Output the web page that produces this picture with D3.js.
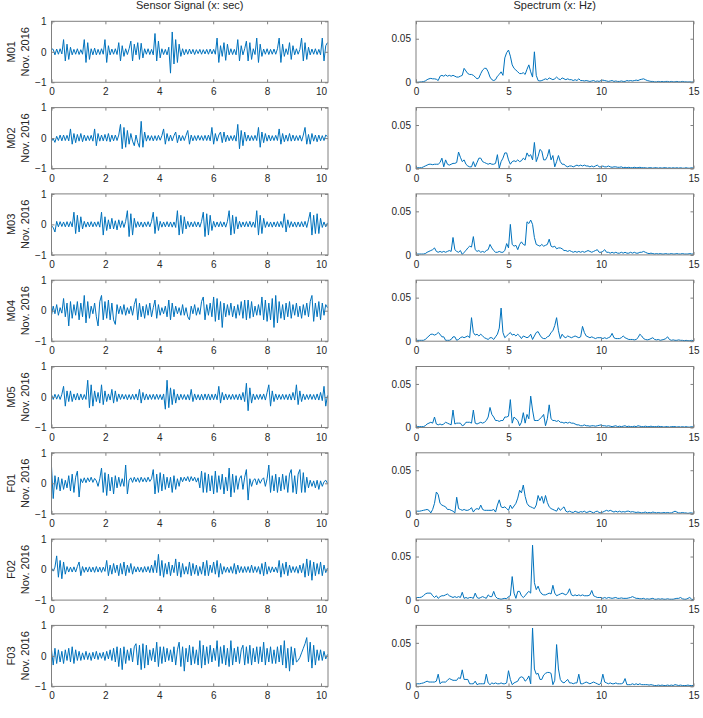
<!DOCTYPE html>
<html>
<head>
<meta charset="utf-8">
<script src="https://cdn.jsdelivr.net/npm/d3@7"></script>
<style>
body { margin: 0; background: #fff; }
svg { font-family: "Liberation Sans", Arial, sans-serif; }
</style>
</head>
<body>
<div id="chart-area"></div>
<script>
/*
*   Sensor signals and their spectra, eight recordings
*/

var rowNames = ["M01", "M02", "M03", "M04", "M05", "F01", "F02", "F03"];
var monthLabel = "Nov. 2016";
var leftTitle = "Sensor Signal (x: sec)";
var rightTitle = "Spectrum (x: Hz)";

var sampleStep = 0.064;   // sec between signal values
var freqStep = 0.1;       // Hz between spectrum values

// signal values, in hundredths
var sigM01 = [10,8,-10,9,-8,10,-7,40,-30,25, -25,15,-10,8,-8,10,-9,7,-8,40, -35,30,-25,10,-10,12,-10,8,-9,10,
    -8,40,-35,20,-10,9,-8,10,-9,30, -30,20,-15,10,-9,10,35,-30,25,-10, 30,-25,28,-20,10,-8,10,-9,8,-10,
    60,-30,35,-20,10,-9,8,-10,15,-70, 65,-40,40,-35,25,-15,10,-10,8,-8, 9,-7,8,-9,7,-6,8,-8,7,-7,
    8,-8,9,-7,8,-8,45,-35,20,-15, 30,-28,25,-10,10,-9,8,-10,40,-30, 20,-10,10,35,-30,30,-25,10,-9,45,
    -35,25,-15,9,-8,10,-9,8,-8,9, -8,10,45,-35,25,-15,10,-9,30,-25, 20,-10,10,-8,8,45,-30,30,-25,15,
    -10,9,-8,10,-9,8,-10,45,-30,20, 30];
var sigM02 = [-10,-2,-14,6,-8,10,-9,10,-8,9, -9,30,-20,15,-15,12,-10,15,-12,10, -9,8,-8,9,-10,30,-25,15,-10,10,
    -9,12,-10,15,-12,10,-9,10,-8,10, 45,-35,35,-30,25,-20,15,-10,-25,10, -15,-30,55,-30,20,-10,9,-8,8,-9,
    8,-8,9,-7,8,30,-20,15,-10,10, -9,8,20,-15,10,-9,8,-8,9,25, -20,10,-9,8,-8,9,-7,8,-8,9,
    -8,10,-9,35,-20,15,-10,10,20,-15, 20,-12,10,-9,8,-8,9,-10,45,-35, 25,-25,20,-10,10,-9,8,-8,9,-8,
    35,-30,20,-15,15,-10,10,-9,8,-8, 9,-8,30,-20,15,-12,10,-10,15,-10, 10,-9,8,-8,9,-10,10,35,-20,12,
    -20,15,-10,10,-12,10,-9,8,-8,10, 5];
var sigM03 = [-5,-10,-25,10,-8,9,-7,8,-8,9, -8,9,-8,40,-30,30,-25,25,-15,10, -9,8,-8,9,-8,8,-7,9,-9,40,
    -35,25,-20,15,-15,20,-15,12,-18,15, -10,12,-10,10,45,-40,35,-35,20,-10, 9,-8,8,-9,8,-7,9,-8,10,40,
    -30,25,-20,10,-9,8,-8,9,-8,8, -9,8,-10,45,-35,30,-30,25,-15,10, -9,8,-8,9,-8,8,-9,10,40,-40,
    35,-35,30,-20,10,-9,8,-8,9,-8, 8,-9,10,45,-35,30,-30,25,-15,10, -9,8,-8,9,-8,10,-9,8,-10,45,
    -35,30,-30,20,-10,9,-8,8,-9,8, -8,9,-8,10,-10,35,-25,15,-10,9, -8,8,-9,8,-8,9,-8,10,-10,15,
    40,-35,30,-30,35,-30,20,-10,8,-8, 5];
var sigM04 = [-15,15,-10,20,-15,10,-8,40,-20,25, -50,30,-25,20,-15,30,-30,25,-20,50, -40,30,-25,15,-10,25,-20,-50,30,50,
    -30,30,-25,35,-30,25,-30,-45,20,-10, 15,-12,20,-15,10,-10,15,-15,20,40, -30,25,-20,15,-25,20,-15,25,-20,10,
    35,-25,20,-15,10,-10,15,-20,35,-30, 25,-20,15,-10,10,-15,20,-15,10,-20, -30,15,-10,20,-15,10,-12,30,45,-30,
    20,-15,25,-20,45,-35,40,-30,30,-55, 25,-20,20,-15,25,-20,15,-25,20,-15, 30,-25,35,-30,35,-25,30,-20,15,-15,
    20,-15,45,-30,35,-35,25,-30,40,-55, 50,-40,30,-25,20,-30,25,-20,30,-25, 20,-15,25,-20,15,-25,20,-15,25,-20,
    30,50,-35,25,-20,30,-30,25,-15,20, 10];
var sigM05 = [8,-8,9,-7,8,-8,9,35,-30,20, -15,20,-15,10,-10,12,-10,10,-9,8, -8,55,-35,40,-30,20,-15,15,-20,40,
    -25,20,-15,10,-10,25,-20,20,-15,10, -8,9,-7,8,-9,8,-8,9,-8,10, -10,25,-20,15,-10,10,-9,8,-8,9,
    -8,9,-8,8,-9,10,-40,55,-35,30, -25,25,-20,10,-10,9,-8,8,-9,8, -10,25,-15,10,-9,8,-10,9,-10,10,
    -9,10,-10,9,-9,10,-9,35,-20,15, -10,10,-9,8,-8,9,-8,8,-9,10, -10,15,-15,45,-45,30,-20,10,-9,8,
    -8,9,-8,10,-10,15,40,-30,20,-15, 10,-9,8,-8,9,-8,8,-9,10,-10, 15,-10,40,-25,20,-15,10,-9,8,-8,
    9,-8,8,-9,10,-10,15,-12,35,-30, 5];
var sigF01 = [55,-50,25,-20,20,-25,15,-20,10,-15, 25,-25,30,-30,20,40,-45,15,2,18, 2,18,5,20,3,16,8,-10,15,50,
    -30,35,-40,30,-25,20,-35,25,-15,20, -10,15,-10,60,-35,10,18,3,20,5, 18,3,20,5,18,4,20,6,15,45,
    -35,30,-30,35,-25,30,-20,20,-15,20, -30,25,-20,15,-10,20,5,20,8,22, 5,22,8,20,4,18,-15,40,-30,35,
    -30,30,-25,25,-35,40,-30,25,-20,30, -35,20,-25,50,-45,30,-30,25,-20,15, 25,-20,20,45,-55,15,-10,10,15,-5,
    15,0,12,18,-10,15,60,-30,25,-25, 30,-30,20,-25,30,-20,25,-30,30,45, -30,25,-35,30,45,-30,35,-30,20,-15,
    10,-10,8,-15,10,-20,8,-10,5,10, 0];
var sigF02 = [5,-5,8,45,-25,30,-30,25,-15,10, -8,8,-8,9,-8,10,25,-20,10,-9, 8,-8,9,-8,8,-9,10,-8,8,-9,
    8,-6,30,-20,15,-15,20,-10,15,-20, 20,-15,25,-20,15,-10,20,-15,10,-8, 9,-8,8,-9,10,-8,10,-10,15,-10,
    30,-10,50,-20,30,-25,20,-15,25,-20, 15,-10,35,-20,25,-25,20,-15,10,-15, 25,-20,20,-15,15,-20,10,-15,25,-20,
    30,-20,15,-10,25,-15,30,-25,20,-15, 10,-9,8,-10,10,-12,20,-15,15,-10, 10,-10,10,-9,10,-10,15,-10,10,-9,
    10,-15,20,-20,25,-15,10,-10,9,-8, 8,-10,30,-25,20,-15,25,-20,15,-10, 10,-9,10,-12,15,-10,20,-25,35,-20,
    30,-35,25,-20,20,-15,25,-20,15,-10, 5];
var sigF03 = [20,-30,25,-25,20,-20,15,-25,20,-15, 25,-20,30,-25,20,-15,15,-15,10,-12, 15,-12,10,-15,12,-10,15,-12,10,-8,
    12,-15,15,-10,20,-15,25,-20,30,-35, 25,-45,30,-25,20,-15,25,-20,30,40, -30,35,-45,40,-40,35,-30,20,-15,25,
    -20,45,-35,30,-25,30,-20,25,-15,20, -20,30,-30,20,45,-35,30,-50,25,-20, 35,-30,30,-25,20,-30,50,-40,35,-30,
    30,-25,35,-20,25,-15,50,-35,30,-25, 35,-30,25,-35,50,-30,25,-20,30,-25, 20,35,-30,30,-25,35,-30,25,-20,30,
    -25,30,-20,45,-30,25,-20,30,-25,20, -25,30,-20,35,-30,50,-40,25,-50,30, -30,25,-20,-15,-5,10,25,40,60,-20,
    45,-40,35,-30,20,-15,20,-15,15,-10, 5];

// spectrum values, in thousandths
var specM01 = [0,0,0.3,0.5,0.8,1.5,3,4,4.5,4, 4,3.5,2,7,8,7,8.5,7,8,7, 8,7,6,6,7,8,16,13,10,9,
    9,8,6,4,5,10,14,16,16,12, 6,3,2,3,7,9,12,8,28,34, 37,30,20,16,14,12,10,10,11,9,
    15,20,12,6,35,8,2,1.5,2,3, 4,3,5,4,3,4,6,4,3,5, 4,3,4,3,3,2,3,2,4,2,
    2,1.5,2,1.5,1,1.5,2,1,1.5,1, 2,2.5,2,1.5,1,1.5,2,1,1.5,1, 1,1.5,1,1,2,1.5,2,1.5,2,2.5,
    2,3,3.5,4,3,2,1.5,1,1,0.5, 0.5,1,0.5,1,0.5,1,1,0.5,1,0.5, 0.5,1,0.5,0.5,1,0.5,0.5,0.3,0.5,0.3,0.3];
var specM02 = [1,1,1,1,2,3,4,5,5,4.5, 5,5,5,7,12,2,10,5,4,5, 6,6,7,19,13,8,10,5,3,2,
    2,8,2,7,12,12,8,7,6,5, 6,5,5,6,16,0.5,8,12,18,18, 10,5,8,9,8,10,8,9,12,10,
    18,14,16,10,30,8,14,22,20,10, 10,14,22,10,15,2,8,15,8,5, 5,3,2,3,3,2,3,4,3,4,
    3,4,3,3,2,3,2,3,4,2, 2,3,2,2,3,2,1.5,2,2,1.5, 1.5,2,1,1.5,1,1.5,1,1,1.5,1,
    1,1.5,1,1,1,0.5,1,1,0.5,1, 1,0.5,1,0.5,1,1,0.5,1,0.5,1, 0.5,1,0.5,1,0.5,0.5,1,0.5,0.5,1,0.5];
var specM03 = [1,1,1,1,1,1.5,3,4,5,6, 8,4,3,4,3,4,3,4,5,4, 20,6,4,3,5,0.5,3,5,8,10,
    9,21,6,4,5,3,4,3,5,6, 12,8,5,3,3,4,3,3,5,13, 8,35,12,10,11,6,12,15,12,11,
    38,36,40,35,20,12,11,10,12,10, 11,12,18,10,9,10,7,8,8,7, 5,5,4,5,4,3,4,3,4,3,
    4,3,4,5,4,3,4,5,6,3, 3,4,6,3,3,2,3,2,3,2, 2,3,2,3,2,2,3,2,3,2,
    2,3,3,4,3,2,1.5,2,1.5,1, 1.5,1,1.5,1,1,1.5,1,1,1.5,1, 1,1.5,1,1,1.5,1,1,1,1.5,1,1];
var specM04 = [1,1,1,1,1,2,4,6,8,8, 7,8,10,8,5,5,1,1,1,2, 5,5,1,2,4,5,4,5,6,4,
    27,10,7,8,6,8,6,4,3,2, 4,4,2,5,8,15,38,10,4,6, 8,10,7,8,6,8,6,3,6,5,
    4,5,8,2,6,10,11,7,4,3, 3,5,6,10,12,18,27,12,3,8, 5,4,6,5,4,5,6,5,4,5,
    17,10,6,5,4,5,4,3,4,4, 4,3,4,3,4,5,9,4,3,3, 3,4,6,4,3,2,2,2,1.5,2,
    4,8,6,3,2,1.5,2,3,4,2, 1.5,2,1,1.5,2,3,5,2,1,1.5, 1,1,1.5,1,1,0.5,1,0.5,0.5,1,0.5];
var specM05 = [1,1,1,1,1,2,4,5,6,5, 12,4,3,4,3,4,6,5,4,3, 20,4,5,5,5,2,3,6,6,6,
    5,20,5,4,5,6,5,6,8,12, 23,15,12,8,8,7,8,8,12,12, 13,32,5,12,10,8,2,6,17,5,
    15,10,36,20,8,8,8,10,12,15, 2,10,26,10,8,8,7,8,6,6, 5,6,5,6,5,5,4,3,3,2,
    2,3,2,2,1.5,2,2,1.5,2,2.5, 3,2,2,1.5,2,1.5,1,1.5,2,1, 1.5,1,1.5,2,1,1.5,1,1,1.5,1,
    2,1.5,1,1,1.5,1,1,1.5,1,1, 1,1.5,1,1,0.5,1,1,0.5,1,1, 1,0.5,1,0.5,1,0.5,1,0.5,0.5,1,0.5];
var specF01 = [3,3,3,3.5,4,4.5,5,4,1,5, 12,25,22,12,10,9,8,5,5,4, 3,1,19,6,5,4,5,4,4,5,
    7,2,5,6,5,10,5,4,4,4, 4,4,5,2,10,16,8,7,8,6, 4,10,6,9,12,18,27,24,33,20,
    12,9,8,7,6,10,21,15,20,12, 21,13,8,6,5,4,3,7,4,6, 8,3,2,3,2,1.5,3,2,1.5,2.5,
    2,3,1.5,2,3,2,1,2.5,3,1.5, 1,2,3,4,3,4,3,2,3,2, 3,2,2.5,2,3,3,2,2.5,2,1.5,
    2,1.5,1,1.5,2,1,1.5,1,2,1.5, 1,1.5,1,1,1.5,1,1.5,1,1,2, 3,2,1,1,1.5,1,1,0.5,1,1,0.5];
var specF02 = [3,3,3,3.5,5,7,8,8,8,5, 3,5,2,4,5,5,6,7,5,4, 3,4,3,4,3,9,2,3,2,3,
    3,2,8,3,2,3,4,3,2,6, 4,4,10,4,2,1.5,1,1.5,2,1.5, 4,5,27,8,2,10,10,5,3,5,
    8,10,8,63,20,12,16,10,7,6, 6,7,8,7,17,8,5,6,7,8, 7,6,8,13,6,5,6,5,6,5,
    6,5,5,5,6,11,5,4,3,3, 3,2,3,2,3,2.5,2,2.5,3,2, 2,2.5,2,2,2,2.5,3,4,3,2,
    2,1.5,1.5,2,1,1.5,1,1.5,2,1, 1,1.5,1,1.5,1,1,1.5,1,1,1, 1.5,2,2,3,1.5,1,1,2,3,1,0.5];
var specF03 = [3,3,3,3.5,4,5,6,5,5,5, 5,6,14,3,5,5,5,7,9,8, 7,7,7,10,9,19,8,8,8,3,
    3,3,6,2,3,3,3,3,14,4, 2,4,3,4,3,3,4,3,3,4, 18,8,2,4,5,6,10,11,10,6,
    8,12,3,67,20,14,15,8,8,13, 15,16,16,15,2,7,48,20,8,5, 4,6,8,4,4,3,4,4,14,3,
    3,4,5,4,3,4,5,4,3,2, 4,14,5,4,3,4,3,3,4,3, 3,3,4,9,2,2,2,3,2,3,
    2,3,2,2,2,2,1.5,2,1.5,1, 1,1.5,1,1.5,1,1,1.5,1,1.5,1, 2,1.5,1,1.5,1,1,1,1.5,1,1,1];

var signals = [sigM01, sigM02, sigM03, sigM04, sigM05, sigF01, sigF02, sigF03];
var spectra = [specM01, specM02, specM03, specM04, specM05, specF01, specF02, specF03];

var sigXTicks = [0, 2, 4, 6, 8, 10];
var sigYTicks = [-1, 0, 1];
var specXTicks = [0, 5, 10, 15];
var specYTicks = [0, 0.05];

var width = 703, height = 718;
var rowTop = 21.3, rowStep = 86.3, rowH = 61;
var lineColor = "#0072bd", boxColor = "#808080", textColor = "#262626";

var svg = d3.select("#chart-area")
    .append("svg")
        .attr("width", width)
        .attr("height", height);

var xSig = d3.scaleLinear().domain([0, 10.26]).range([51.5, 328]);
var xSpec = d3.scaleLinear().domain([0, 15]).range([416, 693.5]);

// column titles
svg.append("text")
    .attr("x", (xSig.range()[0] + xSig.range()[1]) / 2)
    .attr("y", 9)
    .attr("text-anchor", "middle")
    .attr("font-size", "11px")
    .attr("fill", textColor)
    .text(leftTitle);

svg.append("text")
    .attr("x", (xSpec.range()[0] + xSpec.range()[1]) / 2)
    .attr("y", 9)
    .attr("text-anchor", "middle")
    .attr("font-size", "11px")
    .attr("fill", textColor)
    .text(rightTitle);

function drawPanel(g, x, y, xTicks, yTicks, yFormat) {
    var top = y.range()[1], bottom = y.range()[0];
    var left = x.range()[0], right = x.range()[1];

    var bx = g.append("g")
        .attr("transform", "translate(0," + bottom + ")")
        .call(d3.axisBottom(x).tickValues(xTicks).tickSizeInner(-3).tickSizeOuter(0).tickPadding(6));
    var tx = g.append("g")
        .attr("transform", "translate(0," + top + ")")
        .call(d3.axisTop(x).tickValues(xTicks).tickSizeInner(-3).tickSizeOuter(0).tickFormat(""));
    var ly = g.append("g")
        .attr("transform", "translate(" + left + ",0)")
        .call(d3.axisLeft(y).tickValues(yTicks).tickSizeInner(-3).tickSizeOuter(0).tickPadding(5)
            .tickFormat(yFormat));
    var ry = g.append("g")
        .attr("transform", "translate(" + right + ",0)")
        .call(d3.axisRight(y).tickValues(yTicks).tickSizeInner(-3).tickSizeOuter(0).tickFormat(""));

    [bx, tx, ly, ry].forEach(function(a){
        a.select(".domain").remove();
        a.selectAll("line").attr("stroke", boxColor);
        a.selectAll("text")
            .attr("font-size", "10px")
            .attr("fill", textColor)
            .attr("font-family", "Liberation Sans, Arial, sans-serif");
    });

    g.append("rect")
        .attr("x", left)
        .attr("y", top)
        .attr("width", right - left)
        .attr("height", bottom - top)
        .attr("fill", "none")
        .attr("stroke", boxColor)
        .attr("stroke-width", 1);
}

rowNames.forEach(function(name, r){
    var top = rowTop + r * rowStep;
    var ySig = d3.scaleLinear().domain([-1, 1]).range([top + rowH, top]);
    var ySpec = d3.scaleLinear().domain([0, 0.07]).range([top + rowH, top]);

    // row label
    var cy = top + rowH / 2;
    svg.append("text")
        .attr("transform", "translate(15," + cy + ") rotate(-90)")
        .attr("text-anchor", "middle")
        .attr("font-size", "11px")
        .attr("fill", textColor)
        .text(name);
    svg.append("text")
        .attr("transform", "translate(29," + cy + ") rotate(-90)")
        .attr("text-anchor", "middle")
        .attr("font-size", "11px")
        .attr("fill", textColor)
        .text(monthLabel);

    // signal
    var gl = svg.append("g");
    var sigLine = d3.line()
        .x(function(d, i){ return xSig(i * sampleStep); })
        .y(function(d){ return ySig(d / 100); });
    gl.append("path")
        .datum(signals[r])
        .attr("d", sigLine)
        .attr("fill", "none")
        .attr("stroke", lineColor)
        .attr("stroke-width", 1);
    drawPanel(gl, xSig, ySig, sigXTicks, sigYTicks, d3.format("d"));

    // spectrum
    var gr = svg.append("g");
    var specLine = d3.line()
        .x(function(d, i){ return xSpec(i * freqStep); })
        .y(function(d){ return ySpec(d / 1000); });
    gr.append("path")
        .datum(spectra[r])
        .attr("d", specLine)
        .attr("fill", "none")
        .attr("stroke", lineColor)
        .attr("stroke-width", 1);
    drawPanel(gr, xSpec, ySpec, specXTicks, specYTicks, function(d){ return d === 0 ? "0" : d; });
});
</script>
</body>
</html>
